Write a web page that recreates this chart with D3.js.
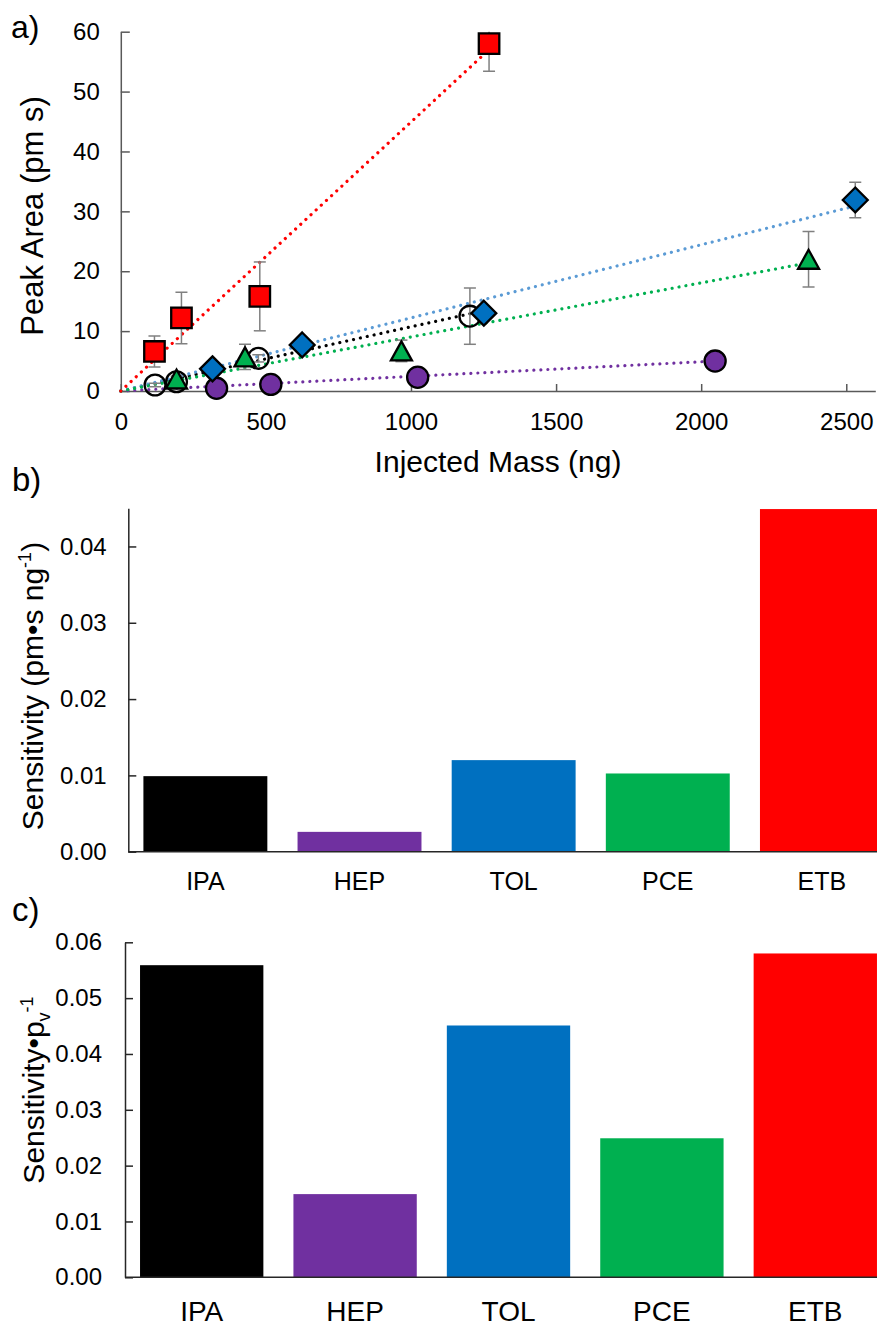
<!DOCTYPE html>
<html><head><meta charset="utf-8">
<script src="https://cdn.jsdelivr.net/npm/d3@7"></script>
<style>
html,body{margin:0;padding:0;background:#fff;}
svg{display:block;font-family:"Liberation Sans",Arial,sans-serif;}
</style></head>
<body>
<svg id="chart" width="877" height="1327"></svg>
<script>
// ---------- Panel a data ----------
const seriesNames = ["IPA", "HEP", "TOL", "PCE", "ETB"];
const ipaMass = [118, 192, 474, 1203];
const ipaArea = [1.0, 1.55, 5.45, 12.5];
const ipaErr  = [0.3, 0.4, 0.6, 4.7];
const hepMass = [330, 517, 1023, 2048];
const hepArea = [0.45, 1.1, 2.3, 5.0];
const hepErr  = [0.15, 0.2, 0.4, 0.6];
const tolMass = [316, 625, 1251, 2531];
const tolArea = [3.7, 7.7, 13.0, 31.9];
const tolErr  = [0.5, 0.7, 1.0, 2.95];
const pceMass = [192, 428, 967, 2370];
const pceArea = [2.0, 5.7, 6.7, 22.0];
const pceErr  = [0.5, 2.1, 1.8, 4.65];
const etbMass = [116, 209, 479, 1269];
const etbArea = [6.6, 12.2, 15.8, 58.0];
const etbErr  = [2.6, 4.3, 5.75, 4.6];
// trend line end points (lines start at origin)
const trendEndMass = [1203, 2048, 2531, 2370, 1269];
const trendEndArea = [12.9, 5.0, 30.9, 21.4, 57.0];
const xTicksA = [0, 500, 1000, 1500, 2000, 2500];
const yTicksA = [0, 10, 20, 30, 40, 50, 60];

// ---------- Panel b / c data ----------
const categories = ["IPA", "HEP", "TOL", "PCE", "ETB"];
const sensitivity = [0.0099, 0.0026, 0.0120, 0.01025, 0.0449];
const sensPv = [0.0559, 0.0149, 0.0451, 0.0249, 0.0580];
const yTicksB = [0, 0.01, 0.02, 0.03, 0.04];
const yTicksC = [0, 0.01, 0.02, 0.03, 0.04, 0.05, 0.06];

const barColors = ["#000000", "#7030A0", "#0070C0", "#00B050", "#FF0000"];
const lineColors = ["#000000", "#7030A0", "#5B9BD5", "#00B050", "#FF0000"];
const markerFill = ["none", "#7030A0", "#0070C0", "#00B050", "#FF0000"];

const svg = d3.select("#chart");
const FONT = "'Liberation Sans', Arial, sans-serif";

// ================= Panel a =================
const xA = d3.scaleLinear().domain([0, 2600]).range([120.8, 875.3]);
const yA = d3.scaleLinear().domain([0, 60]).range([391, 31.7]);
const gA = svg.append("g");

const axA_y = gA.append("g").attr("transform", `translate(${xA(0)},0)`)
  .call(d3.axisLeft(yA).tickValues(yTicksA).tickSizeInner(-9).tickSizeOuter(0).tickPadding(21).tickFormat(d3.format("d")));
const axA_x = gA.append("g").attr("transform", `translate(0,${yA(0)})`)
  .call(d3.axisBottom(xA).tickValues(xTicksA).tickSizeInner(-7).tickSizeOuter(0).tickPadding(22).tickFormat(d3.format("d")));
[axA_y, axA_x].forEach(a => {
  a.selectAll("path,line").attr("stroke", "#595959").attr("stroke-width", 1.5);
  a.selectAll("text").attr("font-family", FONT).attr("font-size", 24).attr("fill", "#000");
});

// trend lines
const masses = [ipaMass, hepMass, tolMass, pceMass, etbMass];
const areas = [ipaArea, hepArea, tolArea, pceArea, etbArea];
const errs = [ipaErr, hepErr, tolErr, pceErr, etbErr];

seriesNames.forEach((s, i) => {
  gA.append("line")
    .attr("x1", xA(0)).attr("y1", yA(0))
    .attr("x2", xA(trendEndMass[i])).attr("y2", yA(trendEndArea[i]))
    .attr("stroke", lineColors[i]).attr("stroke-width", 3.2)
    .attr("stroke-dasharray", "0.01 7").attr("stroke-linecap", "round");
});

// clip for error bars
svg.append("clipPath").attr("id", "clipA").append("rect")
  .attr("x", xA(0)).attr("y", yA(60)).attr("width", xA(2600) - xA(0)).attr("height", yA(0) - yA(60));

const symbols = [d3.symbolCircle, d3.symbolCircle, d3.symbolDiamond, d3.symbolTriangle, d3.symbolSquare];
const symSizes = [340, 350, 310, 250, 420];

seriesNames.forEach((s, i) => {
  const data = masses[i].map((m, k) => ({m, a: areas[i][k], e: errs[i][k]}));
  const eg = gA.append("g").attr("clip-path", "url(#clipA)");
  data.forEach(d => {
    eg.append("line").attr("x1", xA(d.m)).attr("x2", xA(d.m))
      .attr("y1", yA(d.a - d.e)).attr("y2", yA(d.a + d.e))
      .attr("stroke", "#808080").attr("stroke-width", 1.5);
    [d.a - d.e, d.a + d.e].forEach(v => {
      eg.append("line").attr("x1", xA(d.m) - 6).attr("x2", xA(d.m) + 6)
        .attr("y1", yA(v)).attr("y2", yA(v))
        .attr("stroke", "#808080").attr("stroke-width", 1.5);
    });
  });
});

seriesNames.forEach((s, i) => {
  const data = masses[i].map((m, k) => ({m, a: areas[i][k]}));
  let sym;
  if (i === 2) {
    sym = {draw(ctx, size) { const r = Math.sqrt(size / 2); ctx.moveTo(0, -r); ctx.lineTo(r, 0); ctx.lineTo(0, r); ctx.lineTo(-r, 0); ctx.closePath(); }};
  } else if (i === 3) {
    sym = {draw(ctx, size) { const w = 10.5, h = 19; ctx.moveTo(0, -h / 2); ctx.lineTo(w, h / 2); ctx.lineTo(-w, h / 2); ctx.closePath(); }};
  } else {
    sym = symbols[i];
  }
  gA.append("g").selectAll("path").data(data).join("path")
    .attr("transform", d => `translate(${xA(d.m)},${yA(d.a)})`)
    .attr("d", d3.symbol(sym, symSizes[i]))
    .attr("fill", markerFill[i]).attr("stroke", "#000").attr("stroke-width", 2.3)
    .attr("stroke-linejoin", "miter");
});

// axis titles a
svg.append("text").attr("transform", `translate(32,216) rotate(-90)`)
  .attr("text-anchor", "middle").attr("dy", "0.35em")
  .attr("font-family", FONT).attr("font-size", 31).text("Peak Area (pm s)");
svg.append("text").attr("x", 498).attr("y", 472)
  .attr("text-anchor", "middle").attr("font-family", FONT).attr("font-size", 30).text("Injected Mass (ng)");
svg.append("text").attr("x", 11).attr("y", 38).attr("font-family", FONT).attr("font-size", 32).text("a)");

// ================= Panels b, c =================
function barPanel(opts) {
  const x = d3.scaleBand().domain(categories).range(opts.xr).paddingInner(0.196).paddingOuter(0.098);
  const y = d3.scaleLinear().domain(opts.yd).range(opts.yr);
  const g = svg.append("g");
  g.selectAll("rect").data(categories).join("rect")
    .attr("x", d => x(d)).attr("width", x.bandwidth())
    .attr("y", (d, i) => y(Math.min(opts.values[i], opts.yd[1])))
    .attr("height", (d, i) => y(0) - y(Math.min(opts.values[i], opts.yd[1])))
    .attr("fill", (d, i) => barColors[i]);
  const ay = g.append("g").attr("transform", `translate(${opts.xr[0]},0)`)
    .call(d3.axisLeft(y).tickValues(opts.ticks).tickSizeInner(-8).tickSizeOuter(0).tickPadding(opts.tpad).tickFormat(d3.format(".2f")));
  const ax = g.append("g").attr("transform", `translate(0,${y(0)})`)
    .call(d3.axisBottom(x).tickSize(0).tickPadding(opts.xpad));
  ax.select(".domain").attr("d", `M${opts.xr[0]},0H877`);
  [ay, ax].forEach(a => {
    a.selectAll("path,line").attr("stroke", "#262626").attr("stroke-width", 1.5);
    a.selectAll("text").attr("font-family", FONT).attr("fill", "#000");
  });
  ay.selectAll("text").attr("font-size", 24);
  ax.selectAll("text").attr("font-size", opts.xfs);
  return g;
}

barPanel({xr: [128.3, 899], yd: [0, 0.045], yr: [851.7, 508.3], values: sensitivity, ticks: yTicksB, tpad: 21.6, xpad: 20.5, xfs: 25});
barPanel({xr: [125, 892], yd: [0, 0.06], yr: [1277.3, 942.3], values: sensPv, ticks: yTicksC, tpad: 23, xpad: 24, xfs: 28});

// titles b
const tb = svg.append("text").attr("transform", `translate(32,686) rotate(-90)`)
  .attr("text-anchor", "middle").attr("dy", "0.35em")
  .attr("font-family", FONT).attr("font-size", 30);
tb.append("tspan").text("Sensitivity (pm•s ng");
tb.append("tspan").attr("font-size", 18).attr("dy", -12).text("-1");
tb.append("tspan").attr("dy", 12).text(")");
svg.append("text").attr("x", 12).attr("y", 491).attr("font-family", FONT).attr("font-size", 33).text("b)");

// titles c
const tc = svg.append("text").attr("transform", `translate(33,1090) rotate(-90)`)
  .attr("text-anchor", "middle").attr("dy", "0.35em")
  .attr("font-family", FONT).attr("font-size", 30);
tc.append("tspan").text("Sensitivity•p");
tc.append("tspan").attr("font-size", 18).attr("dy", 6).text("v");
tc.append("tspan").attr("font-size", 18).attr("dy", -17).text("-1");
svg.append("text").attr("x", 12).attr("y", 921).attr("font-family", FONT).attr("font-size", 33).text("c)");
</script>
</body></html>
